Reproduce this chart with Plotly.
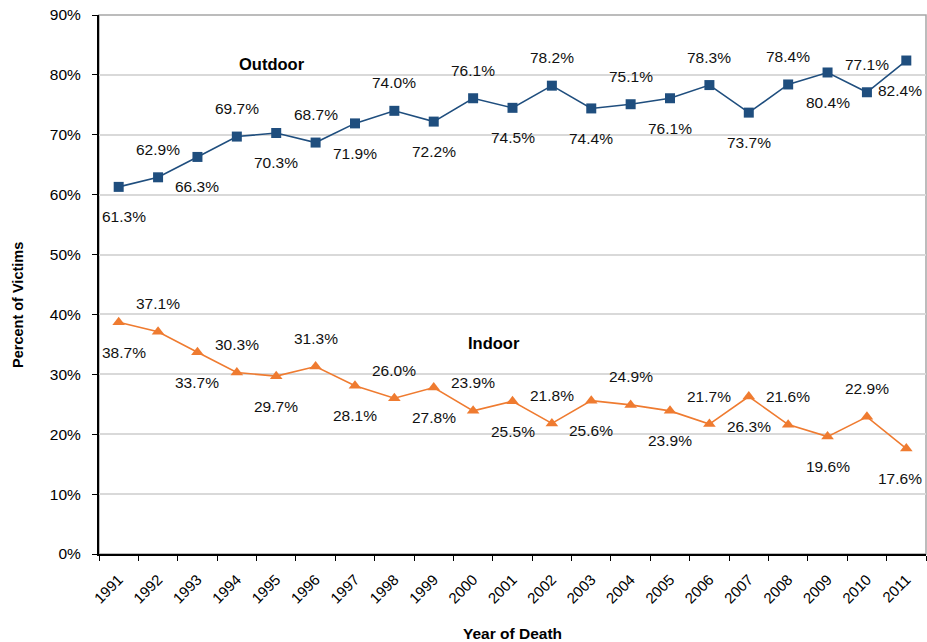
import plotly.graph_objects as go

years = [str(y) for y in range(1991, 2012)]
outdoor = [61.3, 62.9, 66.3, 69.7, 70.3, 68.7, 71.9, 74.0, 72.2, 76.1, 74.5,
           78.2, 74.4, 75.1, 76.1, 78.3, 73.7, 78.4, 80.4, 77.1, 82.4]
indoor = [38.7, 37.1, 33.7, 30.3, 29.7, 31.3, 28.1, 26.0, 27.8, 23.9, 25.5,
          21.8, 25.6, 24.9, 23.9, 21.7, 26.3, 21.6, 19.6, 22.9, 17.6]
y_ticks = list(range(0, 100, 10))

BLUE = "#1F4E7E"
ORANGE = "#EF7B30"
FONT = "Liberation Sans, Arial, sans-serif"

fig = go.Figure()
fig.add_trace(go.Scatter(
    x=years, y=outdoor, mode="lines+markers", name="Outdoor",
    line=dict(color=BLUE, width=1.6),
    marker=dict(symbol="square", size=10, color=BLUE),
))
fig.add_trace(go.Scatter(
    x=years, y=indoor, mode="lines+markers", name="Indoor",
    line=dict(color=ORANGE, width=1.6),
    marker=dict(symbol="triangle-up", size=11, color=ORANGE),
))

annotations = []
last = len(years) - 1
for series in (outdoor, indoor):
    for i, v in enumerate(series):
        annotations.append(dict(
            x=i, y=v, xref="x", yref="y", text=f"{v:.1f}%",
            showarrow=False, yshift=(28 if i % 2 else -30),
            xanchor=("right" if i == last else "center"), yanchor="middle",
            xshift=(18 if i == last else (5 if i == 0 else 0)),
            font=dict(family=FONT, size=15.5, color="#111111"),
        ))
annotations += [
    dict(x=0.209, y=0.909, xref="paper", yref="paper", text="<b>Outdoor</b>",
         xanchor="center", yanchor="middle", showarrow=False,
         font=dict(family=FONT, size=16.5, color="#000")),
    dict(x=0.478, y=0.391, xref="paper", yref="paper", text="<b>Indoor</b>",
         xanchor="center", yanchor="middle", showarrow=False,
         font=dict(family=FONT, size=16.5, color="#000")),
    dict(x=0, y=0.462, xref="paper", yref="paper", text="<b>Percent of Victims</b>",
         textangle=-90, xanchor="center", yanchor="middle", xshift=-81, showarrow=False,
         font=dict(family=FONT, size=14.5, color="#000")),
    dict(x=0.5, y=0, xref="paper", yref="paper", text="<b>Year of Death</b>",
         xanchor="center", yanchor="middle", yshift=-79, showarrow=False,
         font=dict(family=FONT, size=15.5, color="#000")),
]

fig.update_layout(
    width=927, height=642,
    margin=dict(l=99, r=1, t=15, b=88),
    paper_bgcolor="white", plot_bgcolor="white",
    showlegend=False,
    font=dict(family=FONT, size=14, color="#000"),
    annotations=annotations,
    shapes=[dict(type="rect", xref="paper", yref="paper", x0=0, y0=0, x1=1, y1=1,
                 line=dict(color="#A6A6A6", width=1.5), layer="below")],
    xaxis=dict(
        type="category", range=[-0.5, 20.5], tickson="boundaries",
        ticks="outside", ticklen=5, tickcolor="#000", automargin=False,
        ticklabelstandoff=9,
        showline=True, linecolor="#000", linewidth=2,
        tickangle=-45, tickfont=dict(family=FONT, size=15, color="#000"),
        showgrid=False,
    ),
    yaxis=dict(
        range=[0, 90], tickvals=y_ticks, ticktext=[f"{t}%" for t in y_ticks],
        ticks="outside", ticklen=5, tickcolor="#000", automargin=False,
        ticklabeloverflow="allow", ticklabelstandoff=8,
        showline=True, linecolor="#000", linewidth=2,
        showgrid=True, gridcolor="#D9D9D9", gridwidth=1.5,
        tickfont=dict(family=FONT, size=15.5, color="#000"),
        zeroline=False,
    ),
)

# remove the default page margin so the 927x642 figure fills the window exactly
fig.write_html("out.html", config={"displayModeBar": False},
               post_script="document.body.style.margin='0';")
